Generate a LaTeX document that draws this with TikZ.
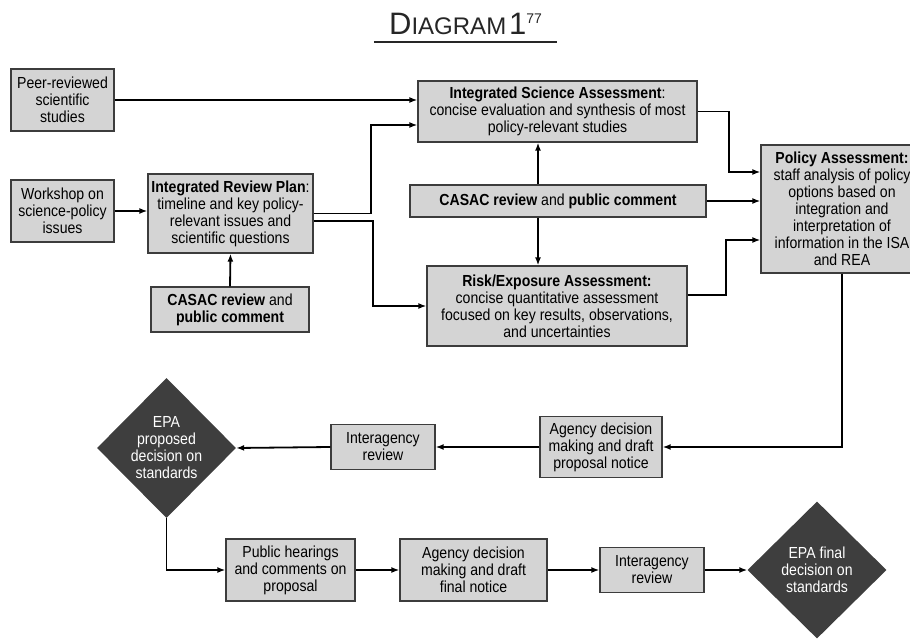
\documentclass[tikz,border=0pt]{standalone}
\usepackage{fontspec}
\setmainfont{Liberation Sans}[FakeStretch=0.88]
\newfontfamily\titlefont{Liberation Sans}
\usetikzlibrary{arrows.meta, shapes.geometric}

\definecolor{boxfill}{HTML}{D4D4D4}
\definecolor{boxedge}{HTML}{3C3C3C}
\definecolor{epadark}{HTML}{3E3E3E}

\begin{document}
\begin{tikzpicture}[x=1pt, y=-1pt,
  font=\fontsize{16}{17}\selectfont,
  stagebox/.style={draw=boxedge, fill=boxfill, line width=1.3pt,
    align=center, inner sep=2pt},
  epadiamond/.style={diamond, fill=epadark, text=white, align=center,
    inner sep=0pt, minimum width=139pt, minimum height=140pt},
  flow/.style={line width=1.8pt, -{Latex[length=8pt,width=6pt]}}]

  % page is 910 x 639, one unit per pixel, y runs downwards
  \useasboundingbox (0,0) rectangle (910,639);

  % ------------------------------------------------------------------ title
  \node[inner sep=0pt, minimum width=183pt, anchor=base, text=black!85,
    font=\titlefont] (title) at (465.5,35)
    {{\fontsize{31}{31}\selectfont D}{\fontsize{24}{24}\selectfont IAGRAM}
     {\fontsize{31}{31}\selectfont 1}\raisebox{11pt}{\fontsize{14}{14}\selectfont 77}};
  \draw[line width=1.2pt, black!85]
    ([yshift=-7pt]title.base west) -- ([yshift=-7pt]title.base east);

  % ------------------------------------------------------ inputs and review plan
  \node[stagebox, minimum width=103pt, minimum height=62pt] (peer) at (62.5,100)
    {Peer-reviewed\\scientific\\studies};
  \node[stagebox, minimum width=103pt, minimum height=62pt] (workshop) at (62.5,211)
    {Workshop on\\science-policy\\issues};
  \node[stagebox, minimum width=165pt, minimum height=79pt] (irp) at (230.5,213.5)
    {\textbf{Integrated Review Plan}:\\timeline and key policy-\\relevant issues and\\scientific questions};
  \node[stagebox, minimum width=158pt, minimum height=45pt] (casacplan) at (230,309.5)
    {\textbf{CASAC review} and\\\textbf{public comment}};

  % ---------------------------------------------------------- the assessments
  \node[stagebox, minimum width=279pt, minimum height=61pt] (isa) at (557.5,111.5)
    {\textbf{Integrated Science Assessment}:\\concise evaluation and synthesis of most\\policy-relevant studies};
  \node[stagebox, minimum width=296pt, minimum height=32pt] (casacmid) at (558,201)
    {\textbf{CASAC review} and \textbf{public comment}};
  \node[stagebox, minimum width=260pt, minimum height=80pt] (rea) at (557,306)
    {\textbf{Risk/Exposure Assessment:}\\concise quantitative assessment\\focused on key results, observations,\\and uncertainties};
  % runs off the right edge of the page, as in the source
  \node[stagebox, minimum width=162pt, minimum height=128pt] (pa) at (842,209)
    {\textbf{Policy Assessment:}\\staff analysis of policy\\options based on\\integration and\\interpretation of\\information in the ISA\\and REA};

  % ---------------------------------------------------------- proposal stage
  \node[stagebox, minimum width=122pt, minimum height=61pt] (agencyprop) at (601,447)
    {Agency decision\\making and draft\\proposal notice};
  \node[stagebox, minimum width=104pt, minimum height=45pt] (interprop) at (383,447)
    {Interagency\\review};
  \node[epadiamond] (epaprop) at (166.5,448)
    {EPA\\proposed\\decision on\\standards};

  % ------------------------------------------------------------- final stage
  \node[stagebox, minimum width=129pt, minimum height=62pt] (hearings) at (290.5,570)
    {Public hearings\\and comments on\\proposal};
  \node[stagebox, minimum width=147pt, minimum height=62pt] (agencyfinal) at (473.5,570)
    {Agency decision\\making and draft\\final notice};
  \node[stagebox, minimum width=104pt, minimum height=45pt] (interfinal) at (652,570)
    {Interagency\\review};
  \node[epadiamond, minimum height=137pt] (epafinal) at (817,570)
    {EPA final\\decision on\\standards};

  % -------------------------------------------------------------- connectors
  \draw[flow] (peer.east) -- (peer.east -| isa.west);
  \draw[flow] (workshop.east) -- (workshop.east -| irp.west);
  \draw[flow] (casacplan.north) -- (irp.south);
  \draw[flow] (irp.east) -- ++(57,0) |- ([yshift=-13.5pt]isa.west);
  \draw[flow] ([yshift=-7.5pt]irp.east) -- ++(59,0) |- (rea.west);

  \draw[flow] ([xshift=-20pt]casacmid.north) -- ([xshift=-20pt]casacmid.north |- isa.south);
  \draw[flow] ([xshift=-20pt]casacmid.south) -- ([xshift=-20pt]casacmid.south |- rea.north);

  \draw[flow] (isa.east) -- ++(31,0) |- ([yshift=37pt]pa.west);
  \draw[flow] (casacmid.east) -- (casacmid.east -| pa.west);
  \draw[flow] ([yshift=11pt]rea.east) -- ++(38,0) |- ([yshift=-31pt]pa.west);

  \draw[flow] (pa.south) |- (agencyprop.east);
  \draw[flow] (agencyprop.west) -- (agencyprop.west -| interprop.east);
  \draw[flow] (interprop.west) -- (epaprop.east);
  \draw[flow] (epaprop.south) |- (hearings.west);

  \draw[flow] (hearings.east) -- (agencyfinal.west);
  \draw[flow] (agencyfinal.east) -- (interfinal.west);
  \draw[flow] (interfinal.east) -- (epafinal.west);

\end{tikzpicture}
\end{document}
